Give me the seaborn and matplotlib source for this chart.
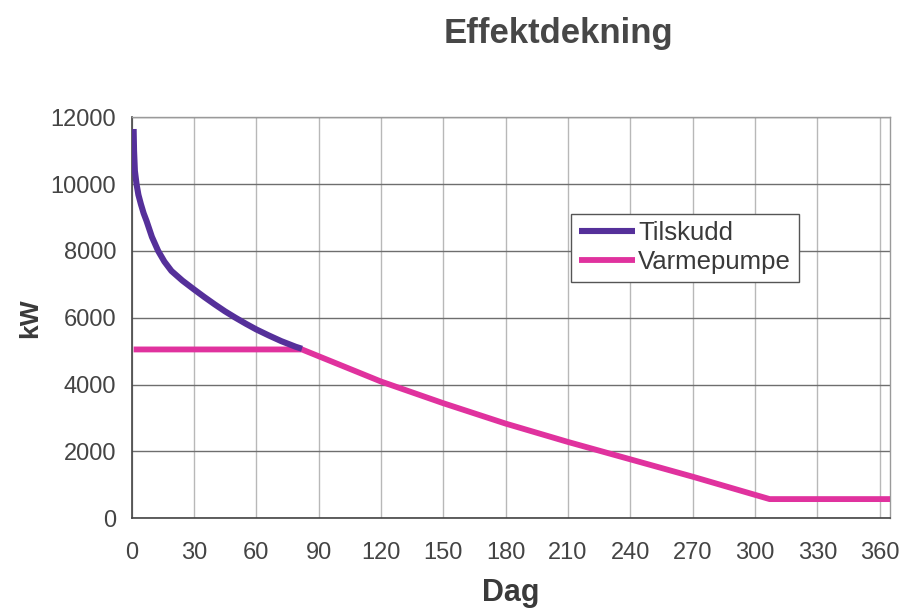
import matplotlib
matplotlib.use("Agg")
import matplotlib.pyplot as plt
import seaborn as sns
import pandas as pd

# Data
tilskudd_dag = [1, 1.2, 1.6, 2.4, 3.3, 4.5, 5.8, 7.2, 9.8, 12.8, 15.8, 19.2, 24.5, 30, 35, 40, 45, 50, 55, 60, 66, 72, 79, 82]
tilskudd_kw = [11650, 11000, 10400, 10000, 9680, 9400, 9130, 8900, 8420, 8000, 7680, 7400, 7110, 6850, 6620, 6400, 6190, 6000, 5820, 5650, 5470, 5300, 5130, 5070]

varme_dag = [1, 82, 120, 150, 180, 210, 240, 270, 307, 365]
varme_kw = [5050, 5050, 4090, 3440, 2830, 2280, 1760, 1240, 570, 570]

x_ticks = list(range(0, 361, 30))
y_ticks = list(range(0, 12001, 2000))

sns.set_theme(style="white")
plt.rcParams['font.family'] = ['Liberation Sans', 'DejaVu Sans']

fig = plt.figure(figsize=(9.01, 6.11), dpi=100)
ax = fig.add_axes([0.146, 0.152, 0.842, 0.656])

df_t = pd.DataFrame({"Dag": tilskudd_dag, "kW": tilskudd_kw})
df_v = pd.DataFrame({"Dag": varme_dag, "kW": varme_kw})

sns.lineplot(data=df_v, x="Dag", y="kW", ax=ax, color="#e0329e", lw=4.2,
             label="Varmepumpe", zorder=3, solid_capstyle="butt")
sns.lineplot(data=df_t, x="Dag", y="kW", ax=ax, color="#55309a", lw=4.4,
             label="Tilskudd", zorder=4, solid_capstyle="butt")

ax.set_xlim(0, 365)
ax.set_ylim(0, 12000)
ax.set_xticks(x_ticks)
ax.set_yticks(y_ticks)
ax.tick_params(axis="both", labelsize=17, colors="#444444", length=6,
               width=1, direction="inout")
ax.tick_params(axis="x", pad=14)
ax.tick_params(axis="y", pad=8)

ax.grid(axis="y", color="#6e6e6e", lw=1)
ax.grid(axis="x", color="#b8b8b8", lw=1)
ax.set_axisbelow(True)

for side in ["top", "right"]:
    ax.spines[side].set_color("#9a9a9a")
    ax.spines[side].set_linewidth(1)
for side in ["left", "bottom"]:
    ax.spines[side].set_color("#444444")
    ax.spines[side].set_linewidth(1.2)

ax.set_xlabel("")
ax.set_ylabel("kW", fontsize=19, fontweight="bold", color="#3a3a3a", labelpad=6)
fig.text(0.567, 0.016, "Dag", fontsize=22, fontweight="bold", color="#3a3a3a",
         ha="center", va="baseline")

handles, labels = ax.get_legend_handles_labels()
order = [labels.index("Tilskudd"), labels.index("Varmepumpe")]
leg = ax.legend([handles[i] for i in order], [labels[i] for i in order],
                loc="upper left", bbox_to_anchor=(0.5795, 0.76), fontsize=18.5,
                frameon=True, fancybox=False, framealpha=1, edgecolor="#555555",
                handlelength=2.2, handletextpad=0.1, borderpad=0.3,
                labelspacing=0.2, borderaxespad=0)
leg.get_frame().set_linewidth(1)
for t in leg.get_texts():
    t.set_color("#3a3a3a")

fig.text(0.62, 0.945, "Effektdekning", fontsize=25, fontweight="bold",
         color="#474747", ha="center", va="center")

fig.savefig("out.png", dpi=100, facecolor="white")
